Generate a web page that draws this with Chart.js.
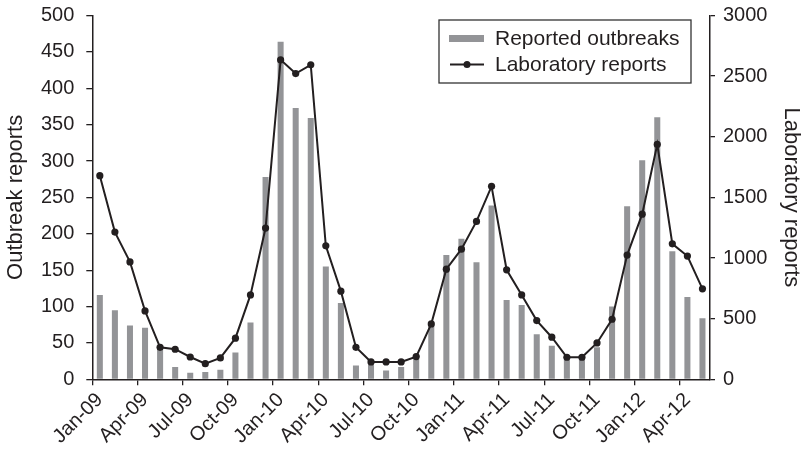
<!DOCTYPE html>
<html>
<head>
<meta charset="utf-8">
<style>
  html, body { margin: 0; padding: 0; background: #ffffff; }
  #wrap { width: 805px; height: 452px; }
</style>
<script src="https://cdn.jsdelivr.net/npm/chart.js@4/dist/chart.umd.min.js"></script>
</head>
<body>
<div id="wrap"><canvas id="chart" width="805" height="452"></canvas></div>
<script>
// Monthly reporting, January 2009 to May 2012
const months = [
  'Jan-09','Feb-09','Mar-09','Apr-09','May-09','Jun-09','Jul-09','Aug-09','Sep-09','Oct-09','Nov-09','Dec-09',
  'Jan-10','Feb-10','Mar-10','Apr-10','May-10','Jun-10','Jul-10','Aug-10','Sep-10','Oct-10','Nov-10','Dec-10',
  'Jan-11','Feb-11','Mar-11','Apr-11','May-11','Jun-11','Jul-11','Aug-11','Sep-11','Oct-11','Nov-11','Dec-11',
  'Jan-12','Feb-12','Mar-12','Apr-12','May-12'
];

// Reported outbreaks per month (left axis)
const outbreaks = [
  116, 95, 74, 71, 45, 17, 9, 10, 13, 37, 78, 278,
  464, 373, 359, 155, 105, 19, 20, 12, 17, 28, 75, 171,
  193, 161, 239, 109, 102, 62, 46, 27, 28, 44, 100, 238,
  301, 360, 176, 113, 84
];

// Laboratory reports per month (right axis)
const labReports = [
  1679, 1214, 968, 564, 264, 248, 184, 129, 176, 339, 696, 1247,
  2634, 2521, 2593, 1101, 727, 264, 143, 143, 143, 187, 457, 908,
  1073, 1302, 1591, 903, 696, 484, 347, 182, 182, 300, 495, 1024,
  1362, 1937, 1117, 1016, 746
];

// Axis ranges and titles
const leftAxisMax = 500, leftAxisStep = 50;
const rightAxisMax = 3000, rightAxisStep = 500;
const leftTitle = 'Outbreak reports';
const rightTitle = 'Laboratory reports';
const seriesNames = ['Reported outbreaks', 'Laboratory reports'];

const INK = '#231f20';
const BAR = '#939497';
const FONT = '"Liberation Sans", Arial, Helvetica, sans-serif';

// Boxed legend in the upper right of the plot area
const boxLegend = {
  id: 'boxLegend',
  afterDraw(chart) {
    const { ctx, chartArea } = chart;
    const w = 252, h = 63;
    const x = chartArea.right - 19 - w;
    const y = chartArea.top + 4.5;
    ctx.save();
    ctx.fillStyle = '#ffffff';
    ctx.fillRect(x, y, w, h);
    ctx.strokeStyle = '#333333';
    ctx.lineWidth = 1.3;
    ctx.strokeRect(x, y, w, h);

    const row1 = y + 18.5, row2 = y + 44.5;
    // bar swatch
    ctx.fillStyle = BAR;
    ctx.fillRect(x + 10, row1 - 3.5, 35, 7);
    // line swatch
    ctx.strokeStyle = INK;
    ctx.lineWidth = 2;
    ctx.beginPath();
    ctx.moveTo(x + 11, row2);
    ctx.lineTo(x + 45, row2);
    ctx.stroke();
    ctx.fillStyle = INK;
    ctx.beginPath();
    ctx.arc(x + 28, row2, 3.5, 0, Math.PI * 2);
    ctx.fill();

    ctx.font = '21px ' + FONT;
    ctx.textBaseline = 'middle';
    ctx.textAlign = 'left';
    ctx.fillStyle = INK;
    ctx.fillText(seriesNames[0], x + 56, row1 + 1);
    ctx.fillText(seriesNames[1], x + 56, row2 + 1);
    ctx.restore();
  }
};

// Vertical axes: fixed width, no extra top/bottom padding for end labels
function fitVertical(width) {
  return function (scale) {
    scale.width = width;
    scale.paddingTop = 0;
    scale.paddingBottom = 0;
  };
}

new Chart(document.getElementById('chart'), {
  type: 'bar',
  data: {
    labels: months,
    datasets: [
      {
        type: 'line',
        label: seriesNames[1],
        data: labReports,
        yAxisID: 'y1',
        borderColor: INK,
        backgroundColor: INK,
        borderWidth: 2,
        pointRadius: 3.6,
        pointBackgroundColor: INK,
        pointBorderWidth: 0,
        tension: 0,
        order: 0
      },
      {
        type: 'bar',
        label: seriesNames[0],
        data: outbreaks,
        yAxisID: 'y',
        backgroundColor: BAR,
        borderWidth: 0,
        barPercentage: 0.4,
        categoryPercentage: 1.0,
        order: 1
      }
    ]
  },
  options: {
    responsive: false,
    animation: false,
    devicePixelRatio: 1,
    layout: { padding: { top: 15.5, right: 0, bottom: 0, left: 0 } },
    plugins: {
      legend: { display: false },
      tooltip: { enabled: false }
    },
    scales: {
      x: {
        offset: true,
        grid: {
          offset: true,
          drawOnChartArea: false,
          drawTicks: true,
          tickLength: 6,
          // quarterly tick marks on the category boundaries
          color: function (c) { return c.index % 3 === 0 ? INK : 'rgba(0,0,0,0)'; },
          lineWidth: 1.3
        },
        border: { display: true, color: INK, width: 1.5 },
        ticks: {
          autoSkip: false,
          maxRotation: 45,
          minRotation: 45,
          padding: 3,
          color: INK,
          font: { family: FONT, size: 20 },
          callback: function (value, index) {
            return index % 3 === 0 ? months[index] : '';
          }
        },
        afterFit: function (scale) {
          scale.height = 72.7;
          scale.paddingLeft = 0;
          scale.paddingRight = 0;
        }
      },
      y: {
        position: 'left',
        min: 0,
        max: leftAxisMax,
        grid: {
          drawOnChartArea: false,
          drawTicks: true,
          tickLength: 6,
          color: INK,
          lineWidth: 1.3
        },
        border: { display: true, color: INK, width: 1.5 },
        ticks: {
          stepSize: leftAxisStep,
          padding: 12,
          color: INK,
          font: { family: FONT, size: 20 }
        },
        title: {
          display: true,
          text: leftTitle,
          color: INK,
          font: { family: FONT, size: 22 },
          padding: { top: 3, bottom: 0 }
        },
        afterFit: fitVertical(92.3)
      },
      y1: {
        position: 'right',
        min: 0,
        max: rightAxisMax,
        grid: {
          drawOnChartArea: false,
          drawTicks: true,
          tickLength: 5,
          color: INK,
          lineWidth: 1.3
        },
        border: { display: true, color: INK, width: 1.5 },
        ticks: {
          stepSize: rightAxisStep,
          padding: 8,
          color: INK,
          font: { family: FONT, size: 20 },
          callback: function (value) { return String(value); }
        },
        title: {
          display: true,
          text: rightTitle,
          color: INK,
          font: { family: FONT, size: 22 },
          padding: { top: 1, bottom: 0 }
        },
        afterFit: fitVertical(95)
      }
    }
  },
  plugins: [boxLegend]
});
</script>
</body>
</html>
